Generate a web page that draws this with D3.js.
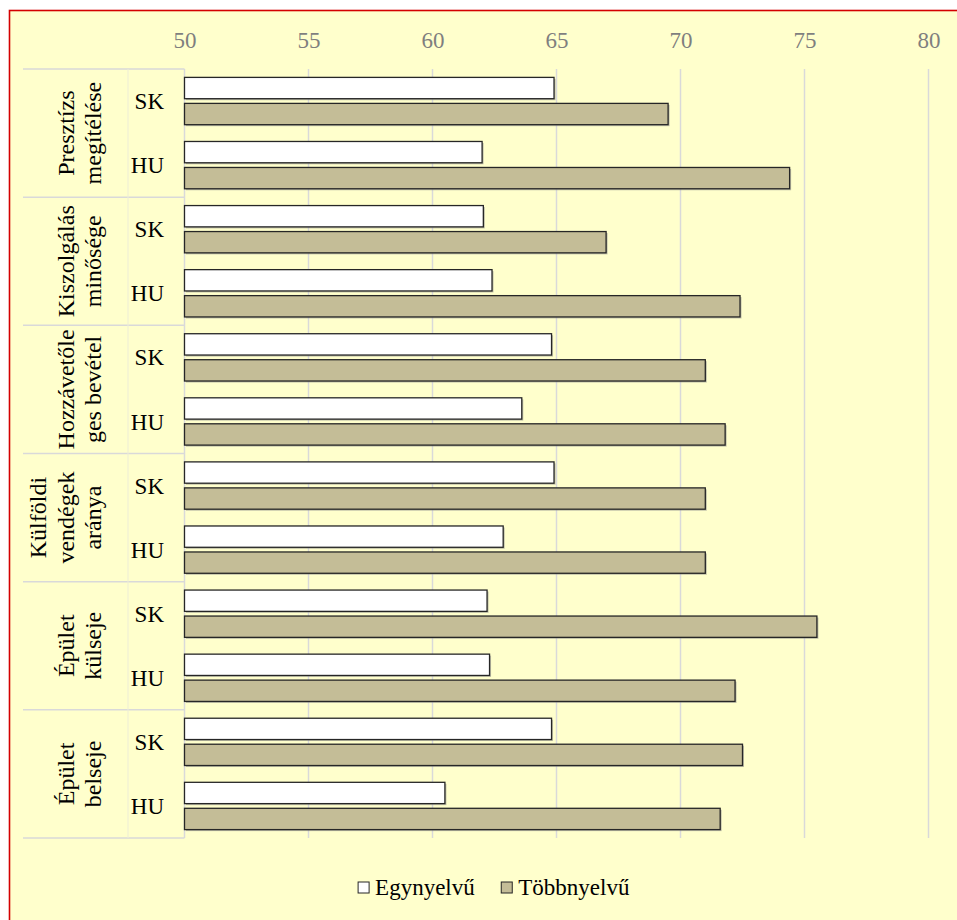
<!DOCTYPE html>
<html>
<head>
<meta charset="utf-8">
<script src="https://cdnjs.cloudflare.com/ajax/libs/d3/7.8.5/d3.min.js"></script>
<style>
  html, body { margin: 0; padding: 0; background: #ffffff; }
  svg { display: block; }
</style>
</head>
<body>
<svg id="chart" width="957" height="920"></svg>
<script>
// ---- data ----
const groups = [
  ["Presztízs", "megítélése"],
  ["Kiszolgálás", "minősége"],
  ["Hozzávetőle", "ges bevétel"],
  ["Külföldi", "vendégek", "aránya"],
  ["Épület", "külseje"],
  ["Épület", "belseje"]
];
const subcats = ["SK", "HU"];
const seriesNames = ["Egynyelvű", "Többnyelvű"];
// values per group, per subcategory: [SK, HU]
const egynyelvu = [
  [64.9, 62.0],
  [62.05, 62.4],
  [64.8, 63.6],
  [64.9, 62.85],
  [62.2, 62.3],
  [64.8, 60.5]
];
const tobbnyelvu = [
  [69.5, 74.4],
  [67.0, 72.4],
  [71.0, 71.8],
  [71.0, 71.0],
  [75.5, 72.2],
  [72.5, 71.6]
];
const xTicks = [50, 55, 60, 65, 70, 75, 80];

// ---- layout ----
const FONT = "Liberation Serif";
const svg = d3.select("#chart");
const W = 957, H = 920;
const plotLeft = 184.5, plotRight = 928.5, plotTop = 69, plotBottom = 838;
const tableLeft = 23, tableMid = 128;
const colors = { "Egynyelvű": "#ffffff", "Többnyelvű": "#c4bd97" };

// background + frame
svg.append("rect").attr("x", 0).attr("y", 0).attr("width", W).attr("height", H).attr("fill", "#ffffff");
svg.append("rect").attr("x", 9.5).attr("y", 10.5).attr("width", W + 20).attr("height", H + 20)
  .attr("fill", "#ffffcc").attr("stroke", "#d40000").attr("stroke-width", 1.6);

// rows: one per group x subcategory
const rows = [];
groups.forEach((g, gi) => subcats.forEach((s, si) => {
  rows.push({ key: gi + "-" + s, gi, s, vals: [egynyelvu[gi][si], tobbnyelvu[gi][si]] });
}));

const x = d3.scaleLinear().domain([50, 80]).range([plotLeft, plotRight]);
const yRow = d3.scaleBand().domain(rows.map(r => r.key)).range([plotTop, plotBottom]).padding(0);
const yGroup = d3.scaleBand().domain(d3.range(groups.length)).range([plotTop, plotBottom]).padding(0);
const ySeries = d3.scaleBand().domain(seriesNames).range([0, yRow.bandwidth()])
  .paddingInner(0.18).paddingOuter(0.323);

// gridlines
svg.append("g").selectAll("line").data(xTicks.filter(t => t > 50)).join("line")
  .attr("x1", d => x(d)).attr("x2", d => x(d))
  .attr("y1", plotTop).attr("y2", plotBottom)
  .attr("stroke", "#d9d9d9").attr("stroke-width", 1.5);

// top axis labels
const axis = svg.append("g").attr("transform", `translate(0,${plotTop})`)
  .call(d3.axisTop(x).tickValues(xTicks).tickSize(0).tickPadding(21).tickFormat(d3.format("d")));
axis.select(".domain").remove();
axis.attr("font-family", null).attr("font-size", null);
axis.selectAll("text").attr("fill", "#7f7f7f").attr("font-family", FONT).attr("font-size", 23);

// category table lines
const tbl = svg.append("g");
const bounds = d3.range(groups.length).map(i => yGroup(i)).concat([plotBottom]);
tbl.selectAll("line.h").data(bounds).join("line").attr("class", "h")
  .attr("x1", tableLeft).attr("x2", plotLeft)
  .attr("y1", d => d).attr("y2", d => d)
  .attr("stroke", "#d9d9d9").attr("stroke-width", 1.5);
tbl.append("line").attr("x1", tableMid).attr("x2", tableMid).attr("y1", plotTop).attr("y2", plotBottom)
  .attr("stroke", "#ededd6").attr("stroke-width", 1);
tbl.append("line").attr("x1", plotLeft).attr("x2", plotLeft).attr("y1", plotTop).attr("y2", plotBottom)
  .attr("stroke", "#d9d9d9").attr("stroke-width", 1.5);

// bars
const barData = rows.flatMap(r => seriesNames.map((s, i) => ({ row: r.key, series: s, value: r.vals[i] })));
const bars = svg.append("g");
// subtle shadow
bars.selectAll("rect.shadow").data(barData).join("rect").attr("class", "shadow")
  .attr("x", x(50) + 1.5)
  .attr("y", d => yRow(d.row) + ySeries(d.series) + 1.5)
  .attr("width", d => x(d.value) - x(50))
  .attr("height", ySeries.bandwidth())
  .attr("fill", "#8c8c8c").attr("opacity", 0.55);
bars.selectAll("rect.bar").data(barData).join("rect").attr("class", "bar")
  .attr("x", x(50))
  .attr("y", d => yRow(d.row) + ySeries(d.series))
  .attr("width", d => x(d.value) - x(50))
  .attr("height", ySeries.bandwidth())
  .attr("fill", d => colors[d.series])
  .attr("stroke", "#262626").attr("stroke-width", 1.3);

// sub labels
svg.append("g").selectAll("text").data(rows).join("text")
  .attr("font-family", FONT).attr("font-size", 23)
  .attr("x", 164).attr("y", d => yRow(d.key) + yRow.bandwidth() / 2)
  .attr("dy", "0.35em").attr("text-anchor", "end")
  .attr("fill", "#000")
  .text(d => d.s);

// group labels (rotated, stacked toward the right)
const gl = svg.append("g");
groups.forEach((lines, gi) => {
  const cy = yGroup(gi) + yGroup.bandwidth() / 2;
  const n = lines.length;
  lines.forEach((ln, li) => {
    const bx = 101 - (n - 1 - li) * 27.5;
    gl.append("text")
      .attr("font-family", FONT).attr("font-size", 24)
      .attr("transform", `translate(${bx},${cy}) rotate(-90)`)
      .attr("text-anchor", "middle")
      .attr("fill", "#000")
      .text(ln);
  });
});

// legend
const leg = svg.append("g");
const legendY = 895;
const items = leg.selectAll("g").data(seriesNames).join("g");
items.append("rect").attr("width", 11).attr("height", 11)
  .attr("fill", d => colors[d]).attr("stroke", "#262626").attr("stroke-width", 1);
items.append("text").attr("x", 17).attr("y", 13)
  .attr("font-family", FONT).attr("font-size", 23)
  .attr("fill", "#000").text(d => d);
const widths = [];
items.each(function () { widths.push(this.getBBox().width); });
const gap = 26;
const total = d3.sum(widths) + gap * (widths.length - 1);
let cx = 494 - total / 2;
items.attr("transform", (d, i) => {
  const t = `translate(${cx},${legendY - 13})`;
  cx += widths[i] + gap;
  return t;
});
</script>
</body>
</html>
